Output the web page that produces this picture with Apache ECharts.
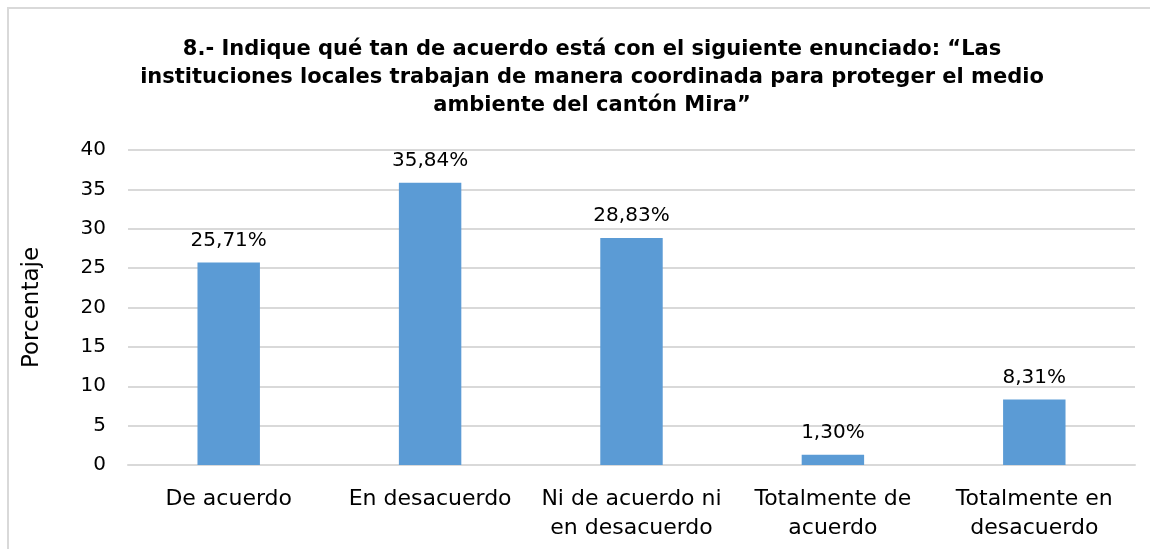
<!DOCTYPE html>
<html>
<head>
<meta charset="utf-8">
<script src="https://cdn.jsdelivr.net/npm/echarts@6/dist/echarts.min.js"></script>
<style>
  html, body { margin: 0; padding: 0; background: #fff; }
  #chart { width: 1150px; height: 549px; }
</style>
</head>
<body>
<div id="chart"></div>
<script>
var categories = ['De acuerdo', 'En desacuerdo', 'Ni de acuerdo ni\nen desacuerdo', 'Totalmente de\nacuerdo', 'Totalmente en\ndesacuerdo'];
var values = [25.71, 35.84, 28.83, 1.30, 8.31];
var titleText = '8.- Indique qué tan de acuerdo está con el siguiente enunciado: “Las\ninstituciones locales trabajan de manera coordinada para proteger el medio\nambiente del cantón Mira”';

var font = "'DejaVu Sans', sans-serif";
var chart = echarts.init(document.getElementById('chart'));
var option = {
  backgroundColor: '#fff',
  textStyle: { fontFamily: font },
  title: {
    text: titleText,
    left: 587,
    top: 31,
    textAlign: 'center',
    textStyle: {
      fontFamily: font,
      fontSize: 21,
      fontWeight: 'bold',
      color: '#000',
      lineHeight: 28
    }
  },
  graphic: [{
    type: 'rect',
    shape: { x: 8, y: 8, width: 1200, height: 600 },
    style: { fill: 'none', stroke: '#d9d9d9', lineWidth: 2 },
    silent: true
  }],
  grid: { left: 128, right: 15, top: 150, bottom: 84 },
  xAxis: {
    type: 'category',
    data: categories,
    axisTick: { show: false },
    axisLine: { lineStyle: { color: '#d9d9d9', width: 2 } },
    axisLabel: {
      color: '#000',
      fontSize: 22,
      lineHeight: 29,
      margin: 20,
      interval: 0
    }
  },
  yAxis: {
    type: 'value',
    min: 0,
    max: 40,
    interval: 5,
    name: 'Porcentaje',
    nameLocation: 'middle',
    nameGap: 84,
    nameTextStyle: { color: '#000', fontSize: 23 },
    axisLine: { show: false },
    axisTick: { show: false },
    axisLabel: { color: '#000', fontSize: 20, margin: 22 },
    splitLine: { lineStyle: { color: '#d9d9d9', width: 2 } }
  },
  series: [{
    type: 'bar',
    data: values,
    barWidth: '31%',
    itemStyle: { color: '#5b9bd5' },
    label: {
      show: true,
      position: 'top',
      distance: 12,
      color: '#000',
      fontSize: 20,
      formatter: function (p) {
        return p.value.toFixed(2).replace('.', ',') + '%';
      }
    }
  }]
};
chart.setOption(option);
</script>
</body>
</html>
